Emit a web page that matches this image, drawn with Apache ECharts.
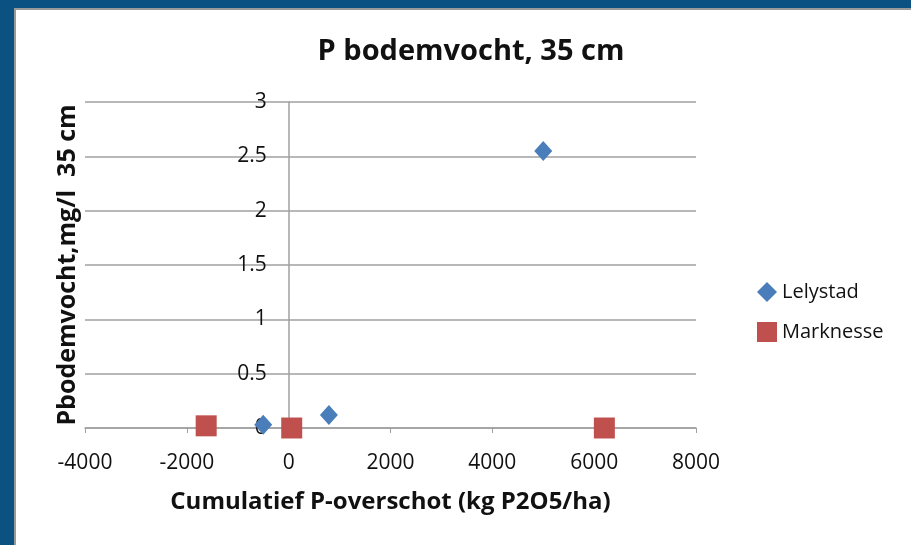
<!DOCTYPE html>
<html>
<head>
<meta charset="utf-8">
<script src="https://cdn.jsdelivr.net/npm/echarts@6/dist/echarts.min.js"></script>
<style>
  html, body { margin: 0; padding: 0; width: 911px; height: 545px; overflow: hidden; background: #0b5283; }
  #frame { position: absolute; left: 14px; top: 8px; width: 897px; height: 537px; background: #9a9a9a; }
  #chart { position: absolute; left: 16px; top: 10px; width: 895px; height: 535px; background: #fff; }
</style>
</head>
<body>
<div id="frame"></div>
<div id="chart"></div>
<script>
const lelystadX = [-500, 790, 5000]
const lelystadY = [0.03, 0.12, 2.55]
const marknesseX = [-1620, 60, 6200]
const marknesseY = [0.02, 0.0, 0.0]

const font = '"Open Sans", Lato, sans-serif'
const gridW = 611
// y axis sits at x = 0 of the x range (-4000..8000)
const yAxisShift = -gridW * 4000 / 12000

const chart = echarts.init(document.getElementById('chart'))

chart.setOption({
  animation: false,
  backgroundColor: '#fff',
  title: {
    text: 'P bodemvocht, 35 cm',
    left: 450,
    textAlign: 'center',
    top: 22,
    textStyle: { fontFamily: font, fontSize: 29, fontWeight: 'bold', color: '#111' }
  },
  legend: {
    orient: 'vertical',
    left: 736,
    top: 267,
    itemGap: 20,
    itemWidth: 20,
    itemHeight: 20,
    textStyle: { fontFamily: font, fontSize: 20, color: '#111' },
    data: [
      { name: 'Lelystad', icon: 'diamond', itemStyle: { color: '#4a7ebb', opacity: 1 } },
      { name: 'Marknesse', icon: 'rect', itemStyle: { color: '#c0504d', opacity: 1 } }
    ]
  },
  grid: { left: 69, width: gridW, top: 92, bottom: 117, outerBoundsMode: 'none' },
  xAxis: {
    type: 'value',
    min: -4000,
    max: 8000,
    interval: 2000,
    name: 'Cumulatief P-overschot (kg P2O5/ha)',
    nameLocation: 'middle',
    nameGap: 62,
    nameTextStyle: { fontFamily: font, fontSize: 24, fontWeight: 'bold', color: '#111' },
    axisLine: { onZero: false, lineStyle: { color: '#a0a0a0', width: 1.5 } },
    axisTick: { show: true, length: 5, lineStyle: { color: '#a0a0a0' } },
    axisLabel: { margin: 25, fontFamily: font, fontSize: 21, color: '#111', formatter: (v) => String(v) },
    splitLine: { show: false }
  },
  yAxis: {
    type: 'value',
    min: 0,
    max: 3,
    interval: 0.5,
    offset: yAxisShift,
    name: 'Pbodemvocht,mg/l  35 cm',
    nameLocation: 'middle',
    nameGap: 208,
    nameTextStyle: { fontFamily: font, fontSize: 25, fontWeight: 'bold', color: '#111' },
    axisLine: { show: true, onZero: false, lineStyle: { color: '#a0a0a0', width: 1.5 } },
    axisTick: { show: false },
    axisLabel: { margin: 22, fontFamily: font, fontSize: 21, color: '#111' },
    splitLine: { show: true, lineStyle: { color: '#a0a0a0', width: 1.5 } }
  },
  series: [
    {
      name: 'Lelystad',
      type: 'scatter',
      symbol: 'diamond',
      symbolSize: [18, 20],
      itemStyle: { color: '#4a7ebb', opacity: 1 },
      data: lelystadX.map((x, i) => [x, lelystadY[i]])
    },
    {
      name: 'Marknesse',
      type: 'scatter',
      symbol: 'rect',
      symbolSize: 21,
      itemStyle: { color: '#c0504d', opacity: 1 },
      data: marknesseX.map((x, i) => [x, marknesseY[i]])
    }
  ]
})
</script>
</body>
</html>
